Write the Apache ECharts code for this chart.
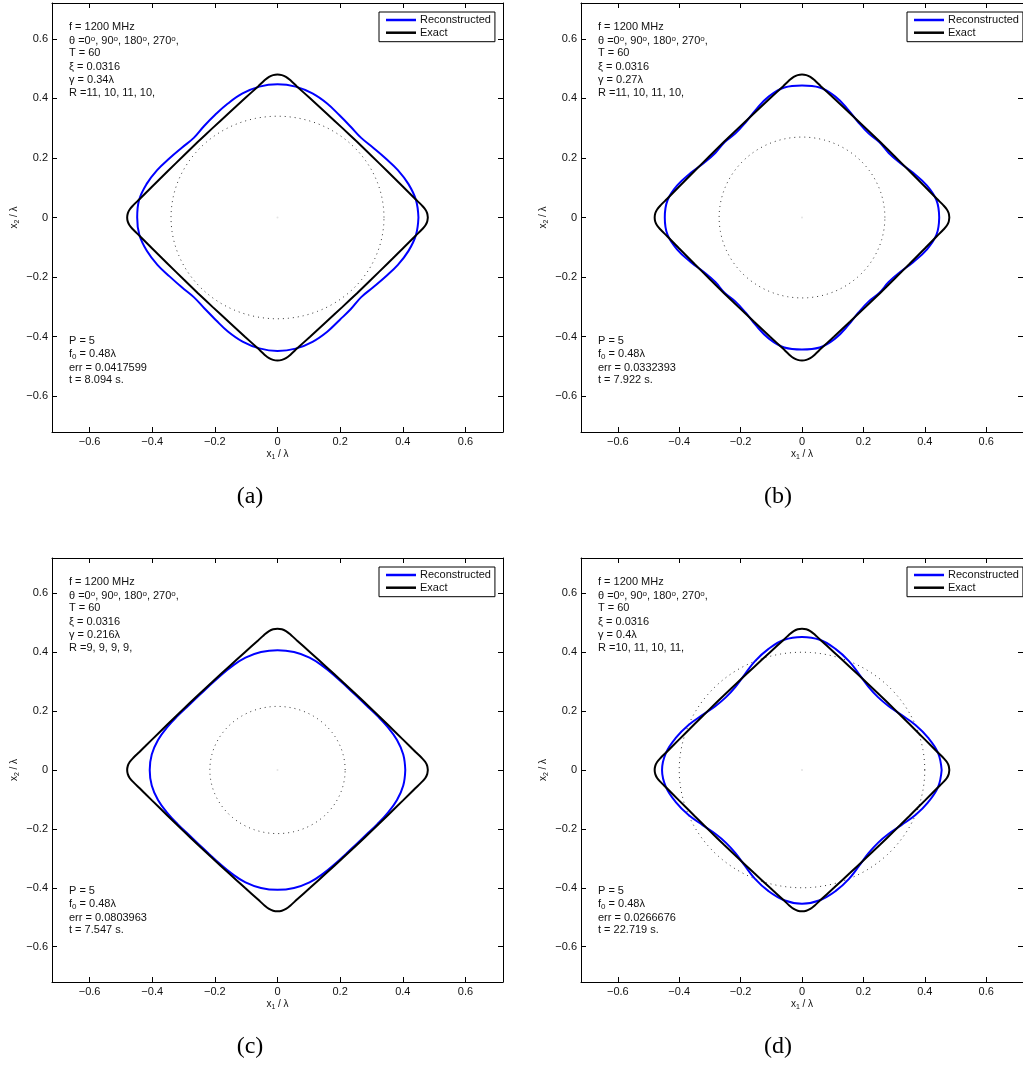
<!DOCTYPE html>
<html>
<head>
<meta charset="utf-8">
<script src="https://cdn.jsdelivr.net/npm/echarts@6/dist/echarts.min.js"></script>
<style>
  html, body { margin: 0; padding: 0; background: #fff; }
  #chart { width: 1023px; height: 1086px; }
</style>
</head>
<body>
<div id="chart"></div>
<script>
// ---- data -------------------------------------------------------------
const tickValues = [-0.6, -0.4, -0.2, 0, 0.2, 0.4, 0.6];
const panelNames = ['(a)', '(b)', '(c)', '(d)'];
const gammaValues = [0.34, 0.27, 0.216, 0.4];
const gammaLabels = ['0.34', '0.27', '0.216', '0.4'];
const rLabels = ['11, 10, 11, 10,', '11, 10, 11, 10,', '9, 9, 9, 9,', '10, 11, 10, 11,'];
const errLabels = ['0.0417599', '0.0332393', '0.0803963', '0.0266676'];
const timeLabels = ['8.094', '7.922', '7.547', '22.719'];

// exact contour (x1/λ, x2/λ), closed loop
const exactContour = [
  [0.480,0.000],[0.478,0.014],[0.472,0.027],[0.462,0.0395],[0.440,0.062],[0.400,0.104],[0.350,0.156],[0.300,0.2075],[0.254,0.254],
  [0.2075,0.300],[0.156,0.350],[0.104,0.400],[0.062,0.440],[0.0395,0.462],[0.027,0.472],[0.014,0.478],
  [0.000,0.480],[-0.014,0.478],[-0.027,0.472],[-0.0395,0.462],[-0.062,0.440],[-0.104,0.400],[-0.156,0.350],[-0.2075,0.300],[-0.254,0.254],
  [-0.300,0.2075],[-0.350,0.156],[-0.400,0.104],[-0.440,0.062],[-0.462,0.0395],[-0.472,0.027],[-0.478,0.014],
  [-0.480,0.000],[-0.478,-0.014],[-0.472,-0.027],[-0.462,-0.0395],[-0.440,-0.062],[-0.400,-0.104],[-0.350,-0.156],[-0.300,-0.2075],[-0.254,-0.254],
  [-0.2075,-0.300],[-0.156,-0.350],[-0.104,-0.400],[-0.062,-0.440],[-0.0395,-0.462],[-0.027,-0.472],[-0.014,-0.478],
  [0.000,-0.480],[0.014,-0.478],[0.027,-0.472],[0.0395,-0.462],[0.062,-0.440],[0.104,-0.400],[0.156,-0.350],[0.2075,-0.300],[0.254,-0.254],
  [0.300,-0.2075],[0.350,-0.156],[0.400,-0.104],[0.440,-0.062],[0.462,-0.0395],[0.472,-0.027],[0.478,-0.014],[0.480,0.000]
];

// polar angles (degrees) at which the reconstructed radii are sampled
const sampleAngles = [0,7.5,15,22.5,30,37.5,45,52.5,60,67.5,75,82.5,
  90,97.5,105,112.5,120,127.5,135,142.5,150,157.5,165,172.5,
  180,187.5,195,202.5,210,217.5,225,232.5,240,247.5,255,262.5,
  270,277.5,285,292.5,300,307.5,315,322.5,330,337.5,345,352.5];

// reconstructed contour radii (in λ) for each panel
const radiiA = [0.450,0.446,0.433,0.416,0.398,0.385,0.378,0.384,0.396,0.414,0.431,0.443,
  0.447,0.443,0.431,0.414,0.398,0.386,0.378,0.385,0.398,0.416,0.433,0.446,
  0.448,0.445,0.432,0.415,0.397,0.385,0.378,0.384,0.396,0.414,0.431,0.443,
  0.448,0.444,0.432,0.415,0.397,0.386,0.378,0.385,0.398,0.416,0.433,0.446];
const radiiB = [0.447,0.442,0.420,0.392,0.368,0.356,0.357,0.356,0.368,0.392,0.420,0.440,
  0.443,0.440,0.420,0.392,0.368,0.356,0.357,0.356,0.368,0.392,0.420,0.442,
  0.447,0.442,0.420,0.392,0.368,0.356,0.357,0.356,0.368,0.392,0.420,0.440,
  0.443,0.440,0.420,0.392,0.368,0.356,0.357,0.356,0.368,0.392,0.420,0.442];
const radiiC = [0.408,0.405,0.395,0.381,0.368,0.359,0.356,0.359,0.368,0.381,0.395,0.404,
  0.407,0.404,0.395,0.381,0.368,0.359,0.356,0.359,0.368,0.381,0.395,0.405,
  0.408,0.405,0.395,0.381,0.368,0.359,0.356,0.359,0.368,0.381,0.395,0.404,
  0.407,0.404,0.395,0.381,0.368,0.359,0.356,0.359,0.368,0.381,0.395,0.405];
const radiiD = [0.455,0.447,0.425,0.400,0.374,0.356,0.350,0.356,0.374,0.400,0.425,0.446,
  0.452,0.446,0.425,0.400,0.374,0.356,0.350,0.356,0.374,0.400,0.425,0.447,
  0.456,0.447,0.425,0.400,0.374,0.356,0.350,0.356,0.374,0.400,0.425,0.446,
  0.454,0.446,0.425,0.400,0.374,0.356,0.350,0.356,0.374,0.400,0.425,0.447];
const reconRadii = [radiiA, radiiB, radiiC, radiiD];

// ---- layout -----------------------------------------------------------
const FONT = '"Liberation Sans", Arial, Helvetica, sans-serif';
const SERIF = '"Liberation Serif", "Times New Roman", serif';
const panels = [
  { left: 52,  top: 3,   width: 451, height: 429, cap: [250, 497] },
  { left: 581, top: 3,   width: 450, height: 429, cap: [778, 497] },
  { left: 52,  top: 558, width: 451, height: 424, cap: [250, 1047] },
  { left: 581, top: 558, width: 450, height: 424, cap: [778, 1047] }
];
const LIM = 0.72;

function polarToXY(radii) {
  const pts = sampleAngles.map((a, i) => {
    const t = a * Math.PI / 180;
    return [radii[i] * Math.cos(t), radii[i] * Math.sin(t)];
  });
  pts.push(pts[0].slice());
  return pts;
}
const fmt = v => (v === 0 ? '0' : String(v).replace('-', '\u2212'));

const grid = [], xAxis = [], yAxis = [], series = [], legend = [], graphic = [];

panels.forEach((p, i) => {
  grid.push({ left: p.left, top: p.top, width: p.width, height: p.height, containLabel: false });
  const lineStyle = { color: '#000', width: 1 };
  const tickCommon = { show: true, inside: true, length: 5, lineStyle: { color: '#000', width: 1 }, customValues: tickValues };
  const nameRich = { s: { fontFamily: FONT, fontSize: 7, color: '#111', verticalAlign: 'bottom', padding: [6, 0, 0, 0] } };
  xAxis.push({
    type: 'value', gridIndex: i, min: -LIM, max: LIM, position: 'bottom',
    axisLine: { show: true, onZero: false, lineStyle },
    axisTick: tickCommon,
    axisLabel: { show: true, customValues: tickValues, formatter: fmt, fontFamily: FONT, fontSize: 11, color: '#111', margin: 4 },
    splitLine: { show: false },
    name: 'x{s|1} / λ', nameLocation: 'middle', nameGap: 16,
    nameTextStyle: { fontFamily: FONT, fontSize: 10, color: '#111', rich: nameRich }
  });
  xAxis.push({
    type: 'value', gridIndex: i, min: -LIM, max: LIM, position: 'top',
    axisLine: { show: true, onZero: false, lineStyle },
    axisTick: tickCommon, axisLabel: { show: false }, splitLine: { show: false }
  });
  yAxis.push({
    type: 'value', gridIndex: i, min: -LIM, max: LIM, position: 'left',
    axisLine: { show: true, onZero: false, lineStyle },
    axisTick: tickCommon,
    axisLabel: { show: true, customValues: tickValues, formatter: fmt, fontFamily: FONT, fontSize: 11, color: '#111', margin: 4 },
    splitLine: { show: false },
    name: 'x{s|2} / λ', nameLocation: 'middle', nameGap: 31, nameRotate: 90,
    nameTextStyle: { fontFamily: FONT, fontSize: 10, color: '#111', rich: nameRich }
  });
  yAxis.push({
    type: 'value', gridIndex: i, min: -LIM, max: LIM, position: 'right',
    axisLine: { show: true, onZero: false, lineStyle },
    axisTick: tickCommon, axisLabel: { show: false }, splitLine: { show: false }
  });

  const xi = i * 2, yi = i * 2;
  // dotted circle of radius γ
  series.push({
    type: 'custom', xAxisIndex: xi, yAxisIndex: yi, silent: true, z: 1,
    data: [[0, 0, gammaValues[i]]],
    encode: { x: 0, y: 1 },
    renderItem: (params, api) => {
      const g = api.value(2);
      const pts = [];
      for (let k = 0; k <= 360; k += 2) {
        const t = k * Math.PI / 180;
        pts.push(api.coord([g * Math.cos(t), g * Math.sin(t)]));
      }
      return { type: 'polyline', shape: { points: pts },
        style: { stroke: '#333', lineWidth: 1, fill: null, lineDash: [1, 4] } };
    }
  });
  // centre marker
  series.push({
    type: 'scatter', xAxisIndex: xi, yAxisIndex: yi, silent: true, z: 1,
    symbol: 'circle', symbolSize: 2, itemStyle: { color: '#ddd' }, data: [[0, 0]]
  });
  series.push({
    name: 'Reconstructed', type: 'line', xAxisIndex: xi, yAxisIndex: yi,
    data: polarToXY(reconRadii[i]), showSymbol: false, symbol: 'none', smooth: 0.4,
    lineStyle: { color: '#0000ff', width: 2 }, itemStyle: { color: '#0000ff' }, z: 2, animation: false
  });
  series.push({
    name: 'Exact', type: 'line', xAxisIndex: xi, yAxisIndex: yi,
    data: exactContour, showSymbol: false, symbol: 'none', smooth: 0.2,
    lineStyle: { color: '#000', width: 2 }, itemStyle: { color: '#000' }, z: 3, animation: false
  });

  legend.push({
    data: ['Reconstructed', 'Exact'], orient: 'vertical',
    left: p.left + p.width - 124, top: p.top + 9,
    icon: 'rect', itemWidth: 30, itemHeight: 2.5, itemGap: 0.7,
    padding: [2, 4, 3, 7], borderColor: '#000', borderWidth: 1, backgroundColor: '#fff',
    textStyle: { fontFamily: FONT, fontSize: 11, color: '#111', lineHeight: 12, padding: [0, 0, 0, -1] },
    selectedMode: false
  });

  // parameter annotations
  const tx = p.left + 17;
  const top0 = p.top + 25;
  const topLines = [
    'f = 1200 MHz',
    'θ =0{s|o}, 90{s|o}, 180{s|o}, 270{s|o},',
    'T = 60',
    'ξ = 0.0316',
    'γ = ' + gammaLabels[i] + 'λ',
    'R =' + rLabels[i]
  ];
  const rich = {
    s: { fontFamily: FONT, fontSize: 8, fill: '#111', verticalAlign: 'top', lineHeight: 13, padding: [0, 0, 5, 0] },
    b: { fontFamily: FONT, fontSize: 8, fill: '#111', verticalAlign: 'bottom', lineHeight: 13, padding: [6, 0, 0, 0] }
  };
  topLines.forEach((t, k) => {
    graphic.push({ type: 'text', left: tx, top: top0 + k * 13.2 - 6.5, z: 10,
      style: { text: t, font: '11px ' + FONT, fill: '#111', rich } });
  });
  const bottom = p.top + p.height;
  const botLines = [
    ['P = 5', -90],
    ['f{b|0} = 0.48λ', -79],
    ['err = ' + errLabels[i], -63],
    ['t = ' + timeLabels[i] + ' s.', -51]
  ];
  botLines.forEach(([t, dy]) => {
    graphic.push({ type: 'text', left: tx, top: bottom + dy - 6.5, z: 10,
      style: { text: t, font: '11px ' + FONT, fill: '#111', rich } });
  });
  graphic.push({ type: 'text', x: p.cap[0], y: p.cap[1], z: 10,
    style: { text: panelNames[i], font: '24px ' + SERIF, fill: '#000', align: 'center', verticalAlign: 'middle' } });
});

const chart = echarts.init(document.getElementById('chart'), null, { renderer: 'canvas' });
chart.setOption({
  animation: false,
  backgroundColor: '#fff',
  grid, xAxis, yAxis, series, legend, graphic
});
</script>
</body>
</html>
